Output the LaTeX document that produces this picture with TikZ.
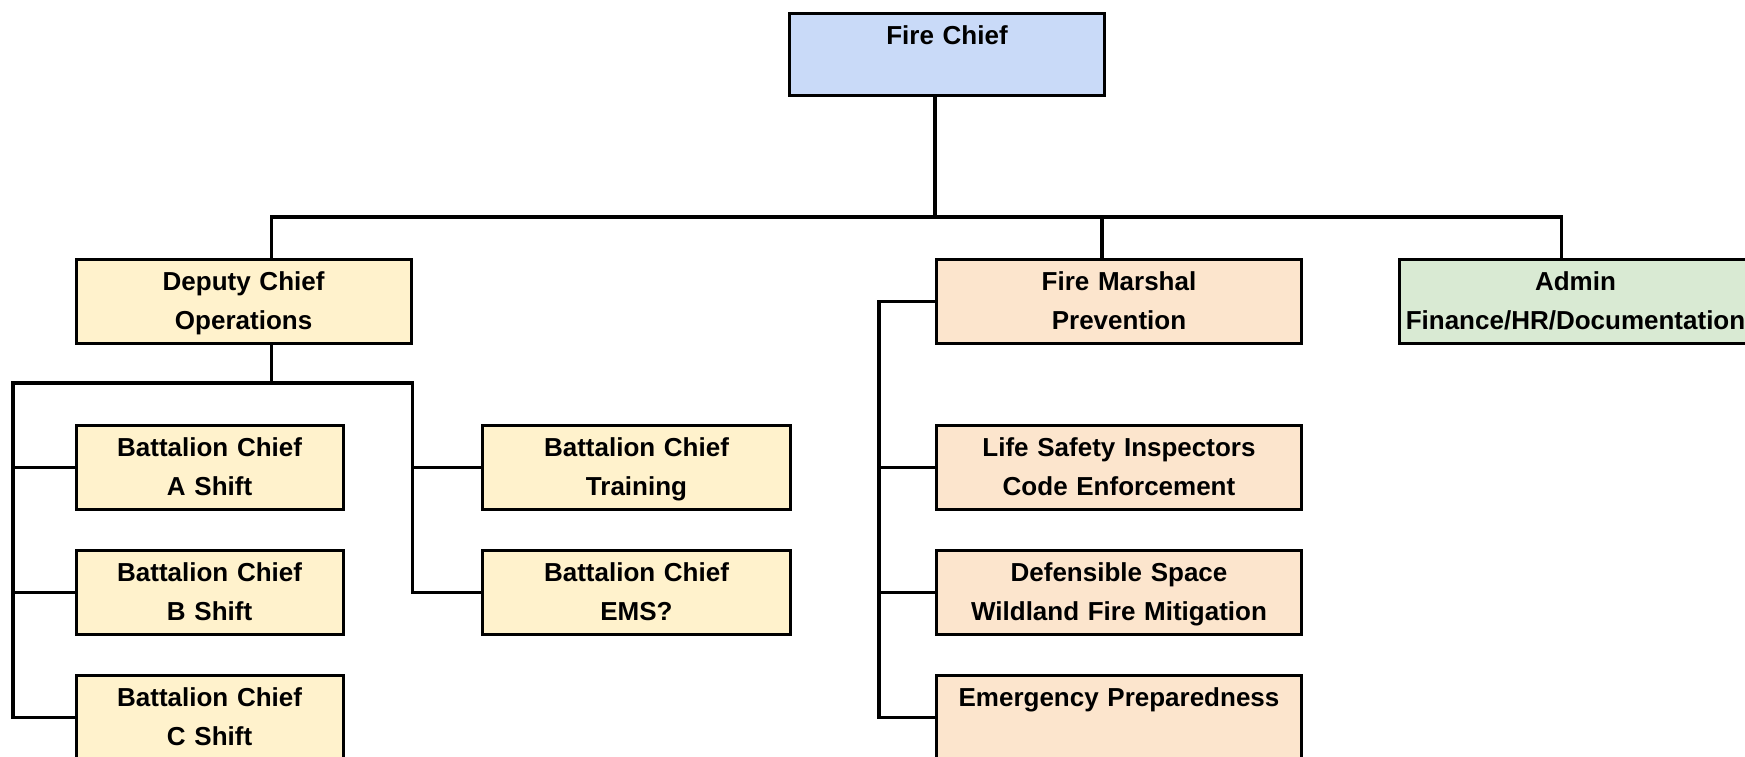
\documentclass[tikz,border=0pt]{standalone}
\usepackage{fontspec}
\setmainfont{Liberation Sans}
\usepackage{xcolor}

\definecolor{chiefblue}{HTML}{C9DAF8}
\definecolor{opsyellow}{HTML}{FFF2CC}
\definecolor{prevorange}{HTML}{FCE5CD}
\definecolor{admingreen}{HTML}{D9EAD3}

\begin{document}
\begin{tikzpicture}[x=1pt,y=-1pt,
	box/.style={draw=black, line width=3pt, anchor=north west, inner sep=0pt, align=center,
		font=\fontsize{26}{38.5}\selectfont\bfseries, text height=31pt, text depth=53pt},
	link/.style={draw=black, line width=3.2pt}]
	\useasboundingbox (0,0) rectangle (1745,756);
	\clip (0,0) rectangle (1745,756);

	\node[box, fill=chiefblue, text width=315pt, text depth=51pt] (chief) at (788,12) {Fire Chief};
	\node[box, fill=opsyellow, text width=335pt] (deputy) at (74.6,258) {Deputy Chief\\Operations};
	\node[box, fill=prevorange, text width=365pt] (marshal) at (935,258) {Fire Marshal\\Prevention};
	\node[box, fill=admingreen, text width=352pt] (admin) at (1398,258) {Admin\\Finance/HR/Documentation};

	\node[box, fill=opsyellow, text width=267pt] (bcA) at (74.6,424) {Battalion Chief\\A Shift};
	\node[box, fill=opsyellow, text width=267pt] (bcB) at (74.6,549) {Battalion Chief\\B Shift};
	\node[box, fill=opsyellow, text width=267pt] (bcC) at (74.6,674) {Battalion Chief\\C Shift};
	\node[box, fill=opsyellow, text width=308pt] (bcT) at (481,424) {Battalion Chief\\Training};
	\node[box, fill=opsyellow, text width=308pt] (bcE) at (481,549) {Battalion Chief\\EMS?};

	\node[box, fill=prevorange, text width=365pt] (life) at (935,424) {Life Safety Inspectors\\Code Enforcement};
	\node[box, fill=prevorange, text width=365pt] (defs) at (935,549) {Defensible Space\\Wildland Fire Mitigation};
	\node[box, fill=prevorange, text width=365pt] (emerg) at (935,674) {Emergency Preparedness};

	\coordinate (busL) at (271.5,217);
	\coordinate (busR) at (1561.5,217);
	\coordinate (busM) at (1102,217);
	\coordinate (opsL) at (13,383);
	\coordinate (prevX) at (879,300);

	\draw[link] (chief.south -| marshal.west) -- (marshal.west |- busL);
	\draw[link] (deputy.north -| busL) -- (busL) -- (busR) -- (admin.north -| busR);
	\draw[link] (busM) -- (marshal.north -| busM);

	\draw[link] (deputy.south -| busL) -- (busL |- opsL);
	\draw[link] (bcC.west) -- (bcC.west -| opsL) -- (opsL) -- (deputy.east |- opsL) -- (deputy.east |- bcE.west) -- (bcE.west);
	\draw[link] (bcA.west -| opsL) -- (bcA.west);
	\draw[link] (bcB.west -| opsL) -- (bcB.west);
	\draw[link] (bcT.west -| deputy.east) -- (bcT.west);

	\draw[link] (marshal.west) -- (marshal.west -| prevX) -- (prevX |- emerg.west) -- (emerg.west);
	\draw[link] (life.west -| prevX) -- (life.west);
	\draw[link] (defs.west -| prevX) -- (defs.west);

\end{tikzpicture}
\end{document}
